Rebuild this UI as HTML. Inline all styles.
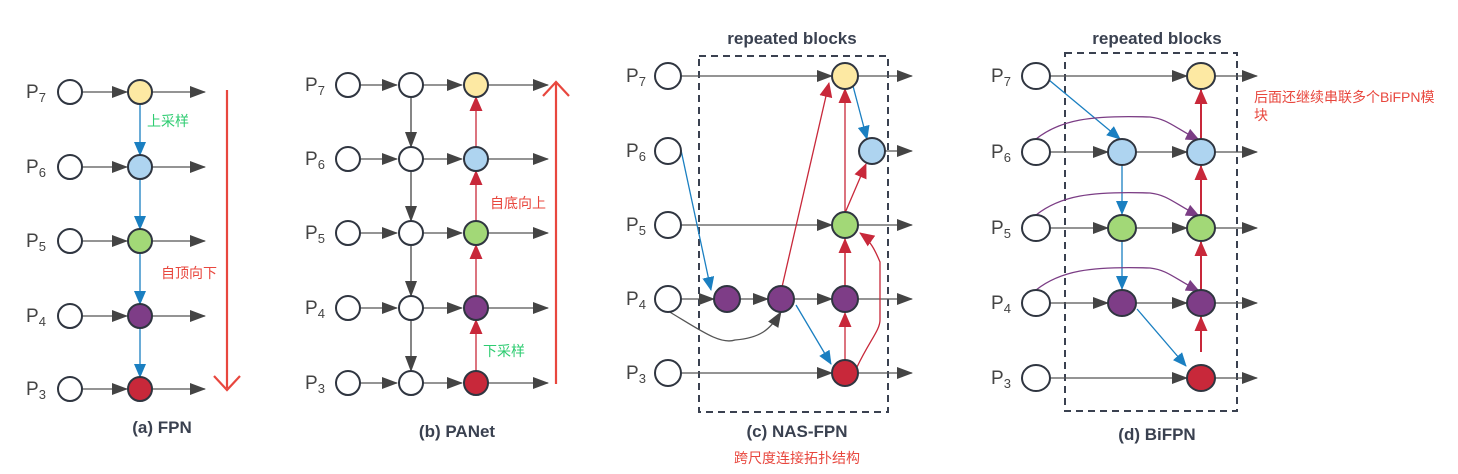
<!DOCTYPE html>
<html><head><meta charset="utf-8"><style>
html,body{margin:0;padding:0;background:#fff;}
svg{display:block;}
text{font-family:"Liberation Sans","Noto Sans CJK SC",sans-serif;}
</style></head><body>
<svg id="s" width="1458" height="474" viewBox="0 0 1458 474" xmlns="http://www.w3.org/2000/svg">
<defs>
<marker id="mg2" markerWidth="16" markerHeight="12" refX="15" refY="6" orient="auto" markerUnits="userSpaceOnUse"><path d="M0,0 L16,6 L0,12Z" fill="#444"/></marker>
<marker id="mb" markerWidth="14" markerHeight="12" refX="13" refY="6" orient="auto" markerUnits="userSpaceOnUse"><path d="M0,0 L14,6 L0,12Z" fill="#1a7fc1"/></marker>
<marker id="mr" markerWidth="15" markerHeight="13" refX="14" refY="6.5" orient="auto" markerUnits="userSpaceOnUse"><path d="M0,0 L15,6.5 L0,13Z" fill="#c8283a"/></marker>
<marker id="mp" markerWidth="14" markerHeight="12" refX="13" refY="6" orient="auto" markerUnits="userSpaceOnUse"><path d="M0,0 L14,6 L0,12Z" fill="#7b3d85"/></marker>
</defs>
<g id="g"></g>
</svg>
<script>
var G=document.getElementById('g'),h='';
var C={w:'#fff',y:'#fde9a3',b:'#aed4f0',g:'#a2d877',p:'#7e3d87',r:'#c8283a'};
function circ(x,y,c,rx,ry){rx=rx||12;ry=ry||rx;h+='<ellipse cx="'+x+'" cy="'+y+'" rx="'+rx+'" ry="'+ry+'" fill="'+C[c]+'" stroke="#2f3540" stroke-width="2"/>';}
function ln(x1,y1,x2,y2,col,m,w){h+='<line x1="'+x1+'" y1="'+y1+'" x2="'+x2+'" y2="'+y2+'" stroke="'+col+'" stroke-width="'+(w||1.3)+'" marker-end="url(#'+m+')"/>';}
function pth(d,col,m){h+='<path d="'+d+'" fill="none" stroke="'+col+'" stroke-width="1.3" marker-end="url(#'+m+')"/>';}
function P(x,y,n){h+='<text x="'+x+'" y="'+(y+6)+'" font-size="19" fill="#444">P<tspan font-size="13" dy="4">'+n+'</tspan></text>';}
function T(x,y,s,sz,col,b,anc){h+='<text x="'+x+'" y="'+y+'" font-size="'+sz+'" fill="'+col+'"'+(b?' font-weight="bold"':'')+' text-anchor="'+(anc||'middle')+'">'+s+'</text>';}
var G1='#555',BL='#1a7fc1',RD='#c8283a',PU='#7b3d85';
// (a) FPN
var ya=[92,167,241,316,389],ca=['y','b','g','p','r'],lb=[7,6,5,4,3];
ya.forEach(function(y,i){P(26,y,lb[i]);ln(82,y,127,y,G1,'mg2');ln(152,y,205,y,G1,'mg2');if(i<4)ln(140,y+12,140,ya[i+1]-12,BL,'mb');});
ya.forEach(function(y,i){circ(70,y,'w');circ(140,y,ca[i]);});
h+='<line x1="227" y1="90" x2="227" y2="388" stroke="#e8473e" stroke-width="2.2"/><path d="M214,376 L227,390 L240,376" fill="none" stroke="#e8473e" stroke-width="2.2"/>';
T(147,126,'上采样',14,'#2ecc71',0,'start');T(161,278,'自顶向下',14,'#e8473e',0,'start');T(162,433,'(a) FPN',17,'#3a4150',1);
// (b) PANet
var yb=[85,159,233,308,383];
yb.forEach(function(y,i){P(305,y,lb[i]);ln(360,y,397,y,G1,'mg2');ln(423,y,462,y,G1,'mg2');ln(488,y,548,y,G1,'mg2');
 if(i<4){ln(411,y+12,411,yb[i+1]-12,'#444','mg2');ln(476,yb[i+1]-12,476,y+12,RD,'mr');}});
yb.forEach(function(y,i){circ(348,y,'w');circ(411,y,'w');circ(476,y,ca[i]);});
h+='<line x1="556" y1="384" x2="556" y2="82" stroke="#e8473e" stroke-width="2.2"/><path d="M543,96 L556,82 L569,96" fill="none" stroke="#e8473e" stroke-width="2.2"/>';
T(490,208,'自底向上',14,'#e8473e',0,'start');T(483,356,'下采样',14,'#2ecc71',0,'start');T(457,437,'(b) PANet',17,'#3a4150',1);
// (c) NAS-FPN
var yc=[76,151,225,299,373];
yc.forEach(function(y,i){P(626,y,lb[i]);});
h+='<rect x="699" y="56" width="189" height="356" fill="none" stroke="#3a4150" stroke-width="2" stroke-dasharray="7,5"/>';
ln(680,76,832,76,G1,'mg2');ln(857,76,912,76,G1,'mg2');
ln(884,151,912,151,G1,'mg2');
ln(680,225,832,225,G1,'mg2');ln(857,225,912,225,G1,'mg2');
ln(680,299,714,299,G1,'mg2');ln(739,299,768,299,G1,'mg2');ln(793,299,832,299,G1,'mg2');ln(857,299,912,299,G1,'mg2');
ln(680,373,832,373,G1,'mg2');ln(857,373,912,373,G1,'mg2');
ln(681,150,711,290,BL,'mb');
pth('M668,311 C700,330 720,345 735,340 C760,338 770,330 781,312',G1,'mg2');
ln(796,305,831,364,BL,'mb');
ln(782,287,829,83,RD,'mr');
ln(845,288,845,89,RD,'mr');
ln(845,361,845,313,RD,'mr');
ln(845,287,845,239,RD,'mr');
ln(845,213,866,164,RD,'mr');
ln(853,86,867,139,BL,'mb');
pth('M857,367 C870,340 880,330 880,320 L880,262 C875,250 870,240 860,233',RD,'mr');
[[668,76,'w'],[668,151,'w'],[668,225,'w'],[668,299,'w'],[668,373,'w'],[845,76,'y'],[872,151,'b'],[845,225,'g'],[727,299,'p'],[781,299,'p'],[845,299,'p'],[845,373,'r']].forEach(function(a){circ(a[0],a[1],a[2],13);});
T(792,44,'repeated blocks',17,'#3a4150',1);T(797,437,'(c) NAS-FPN',17,'#3a4150',1);T(797,463,'跨尺度连接拓扑结构',14,'#e8473e');
// (d) BiFPN
var yd=[76,152,228,303,378];
yd.forEach(function(y,i){P(991,y,lb[i]);});
h+='<rect x="1065" y="53" width="172" height="358" fill="none" stroke="#3a4150" stroke-width="2" stroke-dasharray="7,5"/>';
ln(1050,76,1187,76,G1,'mg2');ln(1215,76,1257,76,G1,'mg2');
[152,228,303].forEach(function(y){ln(1050,y,1108,y,G1,'mg2');ln(1136,y,1187,y,G1,'mg2');ln(1215,y,1257,y,G1,'mg2');});
ln(1050,378,1187,378,G1,'mg2');ln(1215,378,1257,378,G1,'mg2');
ln(1049,80,1120,139,BL,'mb');
ln(1122,165,1122,214,BL,'mb');ln(1122,241,1122,289,BL,'mb');
ln(1137,309,1186,366,BL,'mb');
[[365,303],[303,228],[228,152],[152,76]].forEach(function(a){ln(1201,a[0]-13,1201,a[1]+14,RD,'mr',2);});
[132,208,283].forEach(function(y){pth('M1036,'+(y+7)+' C1060,'+(y-12)+' 1090,'+(y-17)+' 1150,'+(y-15)+' C1168,'+(y-13)+' 1175,'+(y-4)+' 1199,'+(y+8),PU,'mp');});
[[1036,76,'w'],[1036,152,'w'],[1036,228,'w'],[1036,303,'w'],[1036,378,'w'],[1122,152,'b'],[1122,228,'g'],[1122,303,'p'],[1201,76,'y'],[1201,152,'b'],[1201,228,'g'],[1201,303,'p'],[1201,378,'r']].forEach(function(a){circ(a[0],a[1],a[2],14,13);});
T(1157,44,'repeated blocks',17,'#3a4150',1);T(1157,440,'(d) BiFPN',17,'#3a4150',1);
T(1254,102,'后面还继续串联多个BiFPN模',14,'#e8473e',0,'start');T(1254,120,'块',14,'#e8473e',0,'start');
G.innerHTML=h;
</script>
</body></html>
